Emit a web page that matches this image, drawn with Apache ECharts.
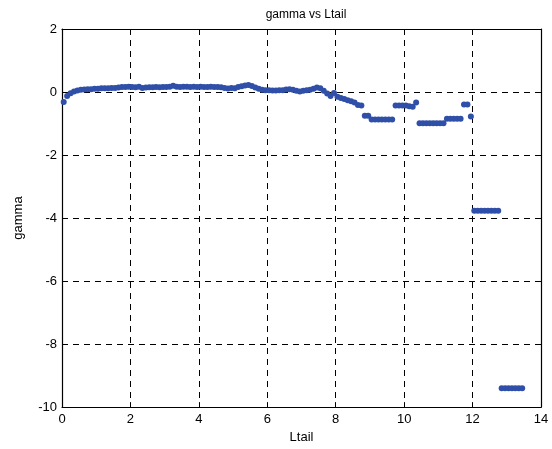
<!DOCTYPE html>
<html>
<head>
<meta charset="utf-8">
<script src="https://cdn.jsdelivr.net/npm/echarts@6/dist/echarts.min.js"></script>
<style>
  html, body { margin: 0; padding: 0; background: #fff; }
  #chart { width: 552px; height: 449px; }
</style>
</head>
<body>
<div id="chart"></div>
<script>
// Tail length samples
const ltail = [
  0.05, 0.15, 0.25, 0.35, 0.45, 0.55, 0.65, 0.75, 0.85, 0.95,
  1.05, 1.15, 1.25, 1.35, 1.45, 1.55, 1.65, 1.75, 1.85, 1.95,
  2.05, 2.15, 2.25, 2.35, 2.45, 2.55, 2.65, 2.75, 2.85, 2.95,
  3.05, 3.15, 3.25, 3.35, 3.45, 3.55, 3.65, 3.75, 3.85, 3.95,
  4.05, 4.15, 4.25, 4.35, 4.45, 4.55, 4.65, 4.75, 4.85, 4.95,
  5.05, 5.15, 5.25, 5.35, 5.45, 5.55, 5.65, 5.75, 5.85, 5.95,
  6.05, 6.15, 6.25, 6.35, 6.45, 6.55, 6.65, 6.75, 6.85, 6.95,
  7.05, 7.15, 7.25, 7.35, 7.45, 7.55, 7.65, 7.75, 7.85, 7.95,
  8.05, 8.15, 8.25, 8.35, 8.45, 8.55, 8.65, 8.75, 8.85, 8.95,
  9.05, 9.15, 9.25, 9.35, 9.45, 9.55, 9.65, 9.75, 9.85, 9.95,
  10.05, 10.15, 10.25, 10.35, 10.45, 10.55, 10.65, 10.75, 10.85, 10.95,
  11.05, 11.15, 11.25, 11.35, 11.45, 11.55, 11.65, 11.75, 11.85, 11.95,
  12.05, 12.15, 12.25, 12.35, 12.45, 12.55, 12.65, 12.75,
  12.85, 12.95, 13.05, 13.15, 13.25, 13.35, 13.45
];

// Fitted gamma at each tail length
const gamma = [
  -0.32, -0.13, -0.04, 0.02, 0.05, 0.07, 0.08, 0.09, 0.09, 0.10,
  0.10, 0.12, 0.12, 0.12, 0.13, 0.13, 0.14, 0.16, 0.16, 0.17,
  0.16, 0.15, 0.17, 0.13, 0.14, 0.15, 0.15, 0.16, 0.15, 0.16,
  0.16, 0.17, 0.20, 0.17, 0.16, 0.17, 0.17, 0.16, 0.17, 0.16,
  0.17, 0.16, 0.16, 0.17, 0.16, 0.16, 0.15, 0.13, 0.11, 0.13,
  0.12, 0.16, 0.18, 0.21, 0.22, 0.19, 0.14, 0.10, 0.07, 0.06,
  0.06, 0.05, 0.05, 0.06, 0.06, 0.08, 0.09, 0.07, 0.04, 0.02,
  0.04, 0.06, 0.07, 0.10, 0.14, 0.12, 0.04, -0.05, -0.13, -0.03,
  -0.15, -0.19, -0.22, -0.26, -0.29, -0.33, -0.41, -0.43, -0.75, -0.75,
  -0.87, -0.87, -0.87, -0.87, -0.87, -0.87, -0.87, -0.43, -0.43, -0.43,
  -0.43, -0.45, -0.47, -0.33, -0.99, -0.99, -0.99, -0.99, -0.99, -0.99,
  -0.99, -0.99, -0.85, -0.85, -0.85, -0.85, -0.85, -0.40, -0.40, -0.78,
  -3.77, -3.77, -3.77, -3.77, -3.77, -3.77, -3.77, -3.77,
  -9.40, -9.40, -9.40, -9.40, -9.40, -9.40, -9.40
];

const xTicks = [0, 2, 4, 6, 8, 10, 12, 14];
const yTicks = [-10, -8, -6, -4, -2, 0, 2];

const points = ltail.map((x, i) => [x, gamma[i]]);

const font = 'Liberation Sans, Arial, sans-serif';
const dashed = { show: true, lineStyle: { color: '#000', type: [6, 5], width: 1 } };
const tick = { show: true, inside: true, length: 5, lineStyle: { color: '#000' } };
const line = { show: true, onZero: false, lineStyle: { color: '#000', width: 1.2 } };

const chart = echarts.init(document.getElementById('chart'), null, { renderer: 'canvas' });
chart.setOption({
  animation: false,
  backgroundColor: '#fff',
  title: {
    text: 'gamma vs Ltail',
    left: 301, top: 4, textAlign: 'center',
    textStyle: { fontFamily: font, fontSize: 12, fontWeight: 'normal', color: '#000' }
  },
  grid: { left: 62, right: 11, top: 29, bottom: 39, containLabel: false },
  xAxis: [{
    type: 'value', min: xTicks[0], max: xTicks[xTicks.length - 1], interval: 2,
    position: 'bottom',
    name: 'Ltail', nameLocation: 'middle', nameGap: 22,
    nameTextStyle: { fontFamily: font, fontSize: 13, color: '#000' },
    axisLine: line, axisTick: tick, splitLine: dashed,
    axisLabel: { fontFamily: font, fontSize: 13, color: '#000', margin: 6 }
  }, {
    type: 'value', min: xTicks[0], max: xTicks[xTicks.length - 1], interval: 2,
    position: 'top',
    axisLine: line, axisTick: tick, splitLine: { show: false },
    axisLabel: { show: false }
  }],
  yAxis: [{
    type: 'value', min: yTicks[0], max: yTicks[yTicks.length - 1], interval: 2,
    position: 'left',
    name: 'gamma', nameLocation: 'middle', nameGap: 37,
    nameTextStyle: { fontFamily: font, fontSize: 13, color: '#000' },
    axisLine: line, axisTick: tick, splitLine: dashed,
    axisLabel: { fontFamily: font, fontSize: 13, color: '#000', margin: 5 }
  }, {
    type: 'value', min: yTicks[0], max: yTicks[yTicks.length - 1], interval: 2,
    position: 'right',
    axisLine: line, axisTick: tick, splitLine: { show: false },
    axisLabel: { show: false }
  }],
  series: [{
    type: 'scatter',
    xAxisIndex: 0, yAxisIndex: 0,
    data: points,
    symbol: 'circle',
    symbolSize: 6,
    itemStyle: { color: '#2f4fa8', opacity: 1 }
  }]
});
</script>
</body>
</html>
